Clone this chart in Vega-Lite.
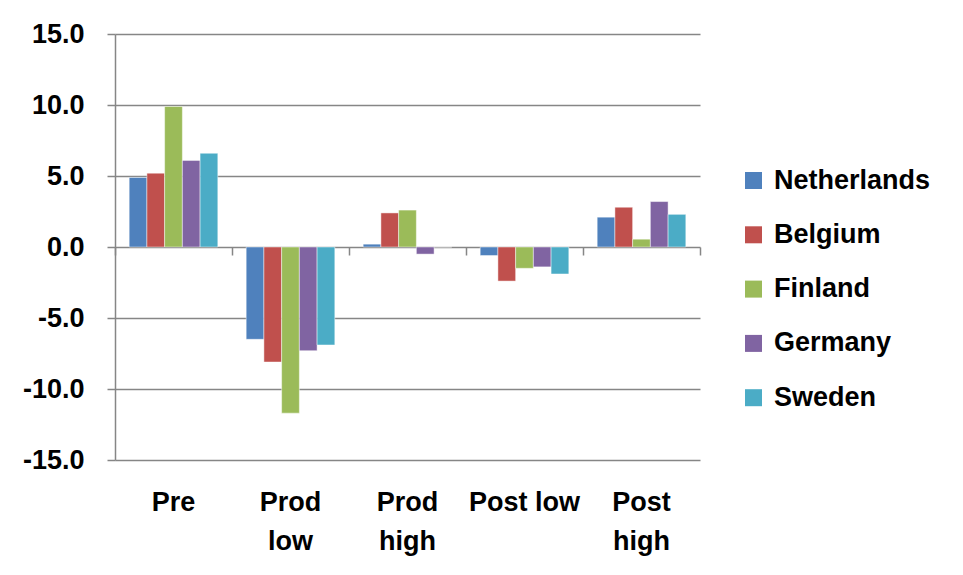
{
  "$schema": "https://vega.github.io/schema/vega-lite/v6.json",
  "autosize": {"type": "none"},
  "width": 585,
  "height": 426,
  "padding": {"left": 115, "top": 34, "right": 263, "bottom": 115},
  "background": "white",
  "config": {
    "view": {"stroke": null},
    "font": "Liberation Sans"
  },
  "data": {
    "values": [
      {"phase": "Pre", "country": "Netherlands", "value": 4.9},
      {"phase": "Pre", "country": "Belgium", "value": 5.2},
      {"phase": "Pre", "country": "Finland", "value": 9.9},
      {"phase": "Pre", "country": "Germany", "value": 6.1},
      {"phase": "Pre", "country": "Sweden", "value": 6.6},
      {"phase": "Prod low", "country": "Netherlands", "value": -6.5},
      {"phase": "Prod low", "country": "Belgium", "value": -8.1},
      {"phase": "Prod low", "country": "Finland", "value": -11.7},
      {"phase": "Prod low", "country": "Germany", "value": -7.3},
      {"phase": "Prod low", "country": "Sweden", "value": -6.9},
      {"phase": "Prod high", "country": "Netherlands", "value": 0.2},
      {"phase": "Prod high", "country": "Belgium", "value": 2.4},
      {"phase": "Prod high", "country": "Finland", "value": 2.6},
      {"phase": "Prod high", "country": "Germany", "value": -0.5},
      {"phase": "Prod high", "country": "Sweden", "value": 0.0},
      {"phase": "Post low", "country": "Netherlands", "value": -0.6},
      {"phase": "Post low", "country": "Belgium", "value": -2.4},
      {"phase": "Post low", "country": "Finland", "value": -1.5},
      {"phase": "Post low", "country": "Germany", "value": -1.4},
      {"phase": "Post low", "country": "Sweden", "value": -1.9},
      {"phase": "Post high", "country": "Netherlands", "value": 2.1},
      {"phase": "Post high", "country": "Belgium", "value": 2.8},
      {"phase": "Post high", "country": "Finland", "value": 0.55},
      {"phase": "Post high", "country": "Germany", "value": 3.2},
      {"phase": "Post high", "country": "Sweden", "value": 2.3}
    ]
  },
  "resolve": {"axis": {"x": "independent"}},
  "layer": [
    {
      "mark": {"type": "bar", "stroke": "white", "strokeOpacity": 0.45, "strokeWidth": 1},
      "encoding": {
        "x": {
          "field": "phase",
          "type": "nominal",
          "sort": ["Pre", "Prod low", "Prod high", "Post low", "Post high"],
          "scale": {"paddingInner": 0, "paddingOuter": 0},
          "axis": {
            "title": null,
            "orient": "bottom",
            "domain": false,
            "ticks": false,
            "grid": false,
            "labelAngle": 0,
            "labelFont": "Liberation Sans",
            "labelFontWeight": "bold",
            "labelFontSize": 27,
            "labelColor": "#000000",
            "labelPadding": 29,
            "labelLineHeight": 39,
            "labelBaseline": "top",
            "labelExpr": "datum.value == 'Prod low' ? ['Prod','low'] : datum.value == 'Prod high' ? ['Prod','high'] : datum.value == 'Post high' ? ['Post','high'] : datum.value"
          }
        },
        "xOffset": {
          "field": "country",
          "type": "nominal",
          "sort": ["Netherlands", "Belgium", "Finland", "Germany", "Sweden"],
          "scale": {"paddingInner": 0, "paddingOuter": 0.8}
        },
        "y": {
          "field": "value",
          "type": "quantitative",
          "scale": {"domain": [-15, 15], "nice": false, "zero": false},
          "axis": {
            "title": null,
            "values": [-15, -10, -5, 0, 5, 10, 15],
            "labelExpr": "(datum.value < 0 ? '-' : '') + format(abs(datum.value), '.1f')",
            "labelFont": "Liberation Sans",
            "labelFontWeight": "bold",
            "labelFontSize": 27,
            "labelColor": "#000000",
            "labelPadding": 23,
            "tickSize": 8,
            "tickColor": "#868686",
            "tickWidth": 1.5,
            "domainColor": "#868686",
            "domainWidth": 1.5,
            "grid": true,
            "gridColor": "#868686",
            "gridWidth": 1.5
          }
        },
        "color": {
          "field": "country",
          "type": "nominal",
          "sort": ["Netherlands", "Belgium", "Finland", "Germany", "Sweden"],
          "scale": {
            "domain": ["Netherlands", "Belgium", "Finland", "Germany", "Sweden"],
            "range": ["#4F81BD", "#C0504D", "#9BBB59", "#8064A2", "#4BACC6"]
          },
          "legend": {
            "title": null,
            "orient": "none",
            "legendX": 625,
            "legendY": 133,
            "symbolType": "square",
            "symbolSize": 289,
            "symbolStrokeWidth": 0,
            "symbolOpacity": 1,
            "labelFont": "Liberation Sans",
            "labelFontWeight": "bold",
            "labelFontSize": 27,
            "labelColor": "#000000",
            "labelOffset": 7,
            "labelLimit": 300,
            "rowPadding": 26.3
          }
        }
      }
    },
    {
      "mark": {"type": "rule", "opacity": 0},
      "encoding": {
        "x": {
          "field": "phase",
          "type": "nominal",
          "sort": ["Pre", "Prod low", "Prod high", "Post low", "Post high"],
          "axis": {
            "title": null,
            "orient": "bottom",
            "offset": -213,
            "labels": false,
            "domain": false,
            "grid": false,
            "ticks": true,
            "tickBand": "extent",
            "tickSize": 8,
            "tickColor": "#868686",
            "tickWidth": 1.5
          }
        }
      }
    }
  ]
}
